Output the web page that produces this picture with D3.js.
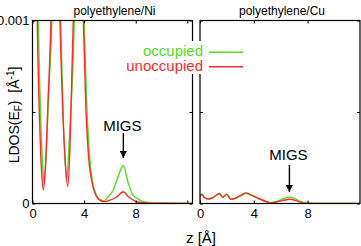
<!DOCTYPE html>
<html lang="en">
<head>
  <meta charset="UTF-8">
  <title>LDOS polyethylene/metal</title>
  <script src="https://d3js.org/d3.v7.min.js"></script>
  <style>
    body { margin: 0; background: #fff; }
    svg { display: block; font-family: "Liberation Sans", Arial, Helvetica, sans-serif; }
  </style>
</head>
<body>
  <svg id="chart" width="361" height="246"></svg>

  <script>
    // LDOS values in units of 10^-3 A^-1
    const zNiOcc   = [0, 0.25, 0.45, 0.62, 0.78, 0.91, 1.05, 1.25, 1.5, 1.85, 2.18, 2.35, 2.5, 2.65, 2.85, 3.24, 3.6, 4.0, 4.2, 4.46, 4.7, 5.0, 5.3, 5.54, 5.9, 6.26, 6.5, 6.75, 7.04, 7.43, 7.8, 8.33, 8.6, 9.2, 10, 12.4];
    const niOcc    = [3.0, 2.2, 1.0, 0.5, 0.22, 0.105, 0.25, 0.6, 1.0, 2.5, 1.0, 0.55, 0.26, 0.128, 0.35, 1.0, 2.5, 1.0, 0.55, 0.228, 0.1, 0.04, 0.02, 0.014, 0.04, 0.074, 0.119, 0.17, 0.206, 0.11, 0.046, 0.019, 0.01, 0.003, 0.001, 0];
    const zNiUnocc = [0, 0.2, 0.37, 0.55, 0.7, 0.84, 1.0, 1.2, 1.43, 1.78, 2.13, 2.35, 2.55, 2.73, 2.9, 3.16, 3.55, 3.94, 4.15, 4.35, 4.6, 4.97, 5.3, 5.6, 6.0, 6.5, 7.04, 7.43, 8.0, 8.6, 9.5, 12.4];
    const niUnocc  = [3.0, 2.2, 1.0, 0.45, 0.18, 0.074, 0.2, 0.55, 1.0, 2.5, 1.0, 0.5, 0.22, 0.092, 0.3, 1.0, 2.5, 1.0, 0.5, 0.25, 0.12, 0.037, 0.015, 0.01, 0.018, 0.034, 0.064, 0.037, 0.012, 0.004, 0.001, 0];

    const zCu      = [0, 0.13, 0.3, 0.57, 0.9, 1.2, 1.44, 1.69, 1.99, 2.3, 2.7, 3.1, 3.42, 3.9, 4.4, 4.9, 5.27, 5.7, 6.2, 6.65, 7.1, 7.5, 7.9, 9, 11.9];
    const cuOcc    = [0.037, 0.052, 0.035, 0.025, 0.03, 0.045, 0.055, 0.034, 0.052, 0.023, 0.03, 0.045, 0.055, 0.042, 0.026, 0.012, 0.004, 0.012, 0.026, 0.034, 0.025, 0.01, 0.002, 0, 0];
    const cuUnocc  = [0.035, 0.05, 0.034, 0.025, 0.03, 0.045, 0.054, 0.034, 0.05, 0.023, 0.031, 0.047, 0.058, 0.044, 0.026, 0.011, 0.003, 0.008, 0.017, 0.023, 0.017, 0.007, 0.001, 0, 0];

    const xTicks = [0, 4, 8, 12];
    const xTickLabels = ["0", "4", "8", ""];
    const yTicks = [0, 0.5, 1];
    const yTickLabels = ["0", "", "0.001"];

    const green = "#52dd1c";
    const red = "#ff2a2a";

    const svg = d3.select("#chart");
    const plotTop = 20.5, plotBottom = 203.5;

    const y = d3.scaleLinear().domain([0, 1]).range([plotBottom, plotTop]);

    // two panels side by side
    const panels = [
      { title: "polyethylene/Ni", left: 32.5, right: 192.5, zmax: 12.4,
        occ: zNiOcc.map((z, i) => [z, niOcc[i]]),
        unocc: zNiUnocc.map((z, i) => [z, niUnocc[i]]),
        migs: { z: 7.04, from: 0.385, to: 0.248, text: 0.395 }, labels: true },
      { title: "polyethylene/Cu", left: 200, right: 360, zmax: 11.9,
        occ: zCu.map((z, i) => [z, cuOcc[i]]),
        unocc: zCu.map((z, i) => [z, cuUnocc[i]]),
        migs: { z: 6.65, from: 0.21, to: 0.063, text: 0.238 }, labels: false }
    ];

    svg.append("defs").append("marker")
       .attr("id", "head")
       .attr("viewBox", "0 0 10 10")
       .attr("refX", 10).attr("refY", 5)
       .attr("markerWidth", 5).attr("markerHeight", 5)
       .attr("markerUnits", "strokeWidth")
       .attr("orient", "auto")
       .append("path").attr("d", "M0,0 L10,5 L0,10 z").attr("fill", "#000");

    panels.forEach((p, k) => {
      const x = d3.scaleLinear().domain([0, p.zmax]).range([p.left, p.right]);
      const g = svg.append("g");

      const clipId = "clip" + k;
      g.append("clipPath").attr("id", clipId)
       .append("rect")
       .attr("x", p.left).attr("y", plotTop)
       .attr("width", p.right - p.left).attr("height", plotBottom - plotTop);

      const line = d3.line()
                     .x(d => x(d[0]))
                     .y(d => y(d[1]))
                     .curve(d3.curveMonotoneX);

      // green first, red on top
      g.append("path").datum(p.occ)
       .attr("clip-path", `url(#${clipId})`)
       .attr("fill", "none").attr("stroke", green).attr("stroke-width", 1.4)
       .attr("d", line);
      g.append("path").datum(p.unocc)
       .attr("clip-path", `url(#${clipId})`)
       .attr("fill", "none").attr("stroke", red).attr("stroke-width", 1.4)
       .attr("d", line);

      // axes with inward ticks, mirrored on the opposite sides
      const xb = g.append("g")
         .attr("transform", `translate(0,${plotBottom})`)
         .call(d3.axisBottom(x).tickValues(xTicks).tickSize(-3).tickPadding(5)
               .tickFormat((d, i) => xTickLabels[i]));
      const xt = g.append("g")
         .attr("transform", `translate(0,${plotTop})`)
         .call(d3.axisTop(x).tickValues(xTicks).tickSize(-3).tickFormat(""));
      const yl = g.append("g")
         .attr("transform", `translate(${p.left},0)`)
         .call(d3.axisLeft(y).tickValues(yTicks).tickSize(-3).tickPadding(3)
               .tickFormat((d, i) => p.labels ? yTickLabels[i] : ""));
      const yr = g.append("g")
         .attr("transform", `translate(${p.right},0)`)
         .call(d3.axisRight(y).tickValues(yTicks).tickSize(-3).tickFormat(""));

      [xb, xt, yl, yr].forEach(a => {
        a.select(".domain").remove();
        a.selectAll("line").attr("stroke", "#000");
        a.selectAll("text").attr("font-size", 13).attr("fill", "#000")
         .attr("font-family", "Liberation Sans, Arial, sans-serif");
      });

      g.append("rect")
       .attr("x", p.left).attr("y", plotTop)
       .attr("width", p.right - p.left).attr("height", plotBottom - plotTop)
       .attr("fill", "none").attr("stroke", "#000").attr("stroke-width", 1.2);

      g.append("text")
       .attr("x", (p.left + p.right) / 2 + 2).attr("y", 15)
       .attr("text-anchor", "middle").attr("font-size", 12)
       .text(p.title);

      // MIGS annotation
      g.append("line")
       .attr("x1", x(p.migs.z)).attr("x2", x(p.migs.z))
       .attr("y1", y(p.migs.from)).attr("y2", y(p.migs.to))
       .attr("stroke", "#000").attr("stroke-width", 1.4)
       .attr("marker-end", "url(#head)");
      g.append("text")
       .attr("x", x(p.migs.z) - 1).attr("y", y(p.migs.text))
       .attr("text-anchor", "middle").attr("font-size", 15)
       .text("MIGS");
    });

    // legend, on an opaque box that hides the panel borders behind it
    svg.append("rect")
       .attr("x", 123).attr("y", 41)
       .attr("width", 122).attr("height", 33)
       .attr("fill", "#fff");

    const legend = [["occupied", green, 56], ["unoccupied", red, 70.5]];
    legend.forEach(([label, color, ty]) => {
      svg.append("text")
         .attr("x", 203).attr("y", ty)
         .attr("text-anchor", "end").attr("font-size", 15)
         .attr("fill", color)
         .text(label);
      svg.append("line")
         .attr("x1", 209).attr("x2", 243)
         .attr("y1", ty - 3.8).attr("y2", ty - 3.8)
         .attr("stroke", color).attr("stroke-width", 1.6);
    });

    // axis titles
    svg.append("text")
       .attr("x", 201).attr("y", 243)
       .attr("text-anchor", "middle").attr("font-size", 15)
       .text("z [Å]");

    const yLabel = svg.append("text")
       .attr("transform", "translate(18.5,115) rotate(-90)")
       .attr("text-anchor", "middle").attr("font-size", 14);
    yLabel.append("tspan").text("LDOS(E");
    yLabel.append("tspan").attr("font-size", 10).attr("dy", 3).text("F");
    yLabel.append("tspan").attr("dy", -3).attr("xml:space", "preserve").text(")  [Å");
    yLabel.append("tspan").attr("font-size", 10).attr("dy", -5).text("-1");
    yLabel.append("tspan").attr("dy", 5).text("]");
  </script>
</body>
</html>
